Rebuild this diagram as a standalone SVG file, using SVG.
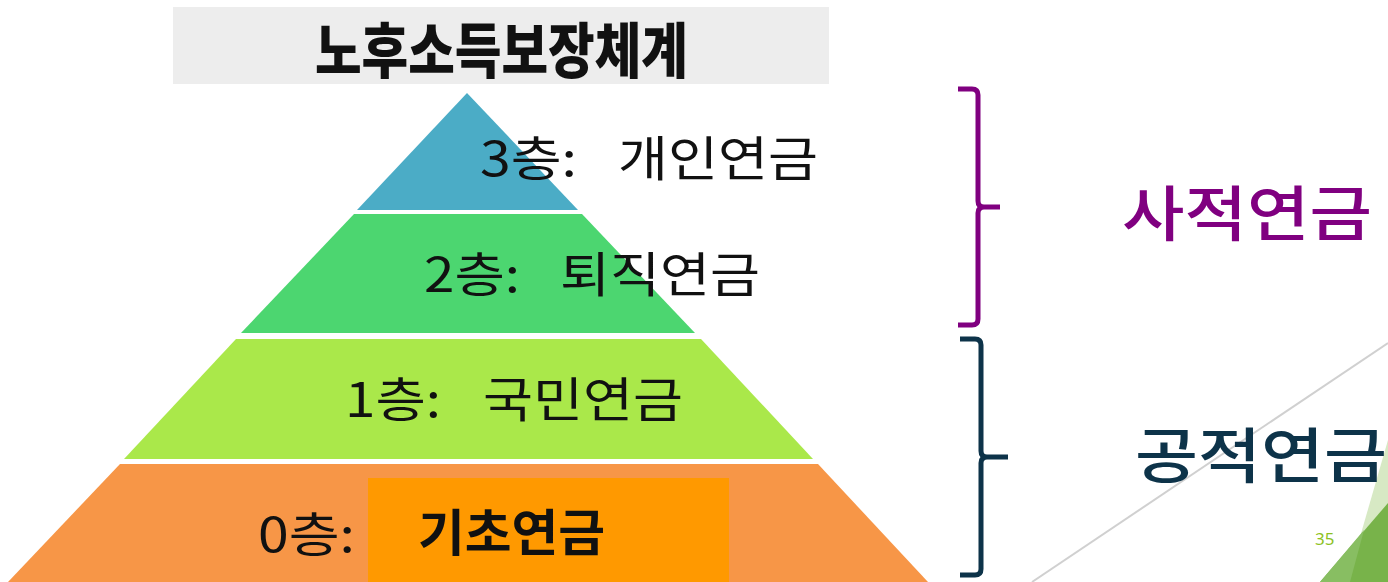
<svg xmlns="http://www.w3.org/2000/svg" width="1388" height="582" viewBox="0 0 1388 582">
<style>
.kr{font-family:"Noto Sans CJK KR","Liberation Sans",sans-serif;fill:#111}
.lay{font-size:48px;font-weight:400}
.side{font-size:60px;font-weight:500}
.br{fill:none;stroke-width:5;stroke-linejoin:round;stroke-linecap:butt}
</style>
<rect width="1388" height="582" fill="#fff"/>
<g id="decor">
<line x1="1388" y1="343" x2="1032" y2="582" stroke="#d0d0d0" stroke-width="2"/>
<polygon points="1388,440 1347,582 1388,582" fill="#d7e9c4"/>
<polygon points="1320,582 1388,503 1388,582" fill="#78b34a"/>
<polygon points="1320,582 1364,530 1350,582" fill="#88be62"/>
<text x="1315" y="545" font-family="Noto Sans,Liberation Sans,sans-serif" font-size="17" fill="#8dc21f">35</text>
</g>
<g id="title">
<rect x="173" y="7" width="656" height="77" fill="#ededed"/>
<text class="kr" x="315" y="73" font-size="60" font-weight="900" textLength="373" lengthAdjust="spacingAndGlyphs" fill="#000">노후소득보장체계</text>
</g>
<g id="layer3">
<polygon points="467,93 578,210 357,210" fill="#4bacc6"/>
<text class="kr lay" x="480" y="176" textLength="97" lengthAdjust="spacingAndGlyphs">3층:</text>
<text class="kr lay" x="618" y="176" textLength="200" lengthAdjust="spacingAndGlyphs">개인연금</text>
</g>
<g id="layer2">
<polygon points="354,214 582,214 695,333 241,333" fill="#4cd670"/>
<text class="kr lay" x="424" y="292" textLength="96" lengthAdjust="spacingAndGlyphs">2층:</text>
<text class="kr lay" x="560" y="292" textLength="200" lengthAdjust="spacingAndGlyphs">퇴직연금</text>
</g>
<g id="layer1">
<polygon points="236,339 701,339 813,459 124,459" fill="#aae84a"/>
<text class="kr lay" x="345" y="417" textLength="96" lengthAdjust="spacingAndGlyphs">1층:</text>
<text class="kr lay" x="483" y="417" textLength="200" lengthAdjust="spacingAndGlyphs">국민연금</text>
</g>
<g id="layer0">
<polygon points="120,464 818,464 928,582 8,582" fill="#f79647"/>
<rect x="368" y="478" width="361" height="104" fill="#ff9900"/>
<text class="kr lay" x="258" y="552" textLength="97" lengthAdjust="spacingAndGlyphs">0층:</text>
<text class="kr" x="418" y="551" font-size="50" font-weight="700" textLength="187" lengthAdjust="spacingAndGlyphs">기초연금</text>
</g>
<g id="connectors">
<path class="br" stroke="#800080" d="M958,89 H972 Q978,89 978,95 V201 Q978,207 984,207 H1000 M984,207 Q978,207 978,213 V319 Q978,325 972,325 H958"/>
<path class="br" stroke="#0d3349" d="M960,339 H975 Q981,339 981,345 V451 Q981,457 987,457 H1008 M987,457 Q981,457 981,463 V569 Q981,575 975,575 H960"/>
</g>
<g id="private">
<text class="kr side" x="1122" y="236" style="fill:#800080" textLength="250" lengthAdjust="spacingAndGlyphs">사적연금</text>
</g>
<g id="public">
<text class="kr side" x="1135" y="478" style="fill:#0d3349" textLength="252" lengthAdjust="spacingAndGlyphs">공적연금</text>
</g>
</svg>
